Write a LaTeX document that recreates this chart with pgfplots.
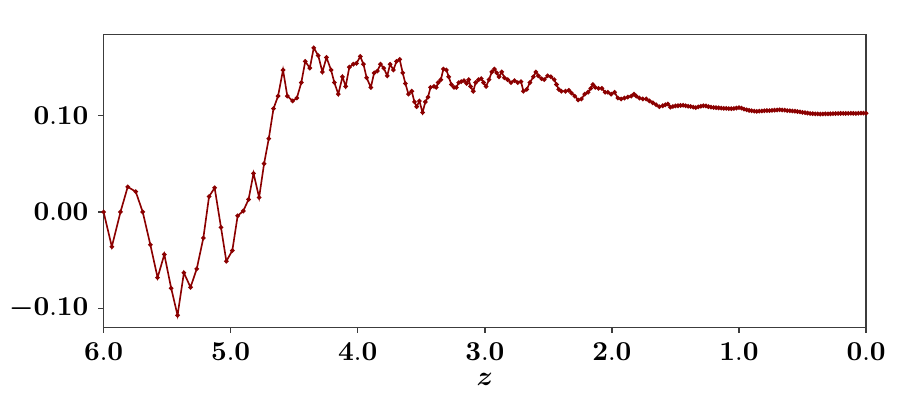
\documentclass[border=0pt]{standalone}
\usepackage{amsmath}
\usepackage{pgfplots}
\pgfplotsset{compat=1.18}
\definecolor{linecol}{RGB}{139,0,0}
\definecolor{axiscol}{RGB}{60,60,60}
\pgfplotstableread{
z y
6.000 0.000
5.935 -0.036
5.867 0.000
5.810 0.026
5.747 0.021
5.692 0.000
5.632 -0.034
5.575 -0.068
5.522 -0.044
5.468 -0.079
5.418 -0.107
5.368 -0.063
5.316 -0.078
5.267 -0.059
5.215 -0.027
5.170 0.016
5.126 0.025
5.076 -0.016
5.034 -0.051
4.987 -0.040
4.945 -0.004
4.901 0.001
4.859 0.013
4.820 0.040
4.776 0.015
4.737 0.050
4.700 0.076
4.663 0.107
4.627 0.120
4.588 0.147
4.554 0.120
4.512 0.115
4.479 0.118
4.444 0.134
4.413 0.156
4.377 0.149
4.346 0.170
4.311 0.162
4.278 0.145
4.246 0.160
4.210 0.147
4.184 0.134
4.153 0.122
4.120 0.140
4.095 0.130
4.066 0.150
4.035 0.153
4.010 0.154
3.980 0.161
3.955 0.153
3.930 0.139
3.897 0.129
3.871 0.144
3.845 0.146
3.821 0.153
3.795 0.149
3.768 0.141
3.745 0.153
3.719 0.147
3.695 0.156
3.670 0.158
3.646 0.144
3.625 0.133
3.601 0.122
3.575 0.125
3.554 0.114
3.536 0.109
3.515 0.115
3.490 0.103
3.468 0.114
3.447 0.119
3.427 0.129
3.400 0.130
3.382 0.129
3.367 0.134
3.346 0.137
3.326 0.148
3.302 0.147
3.284 0.140
3.263 0.132
3.242 0.129
3.224 0.129
3.205 0.134
3.185 0.135
3.164 0.136
3.143 0.133
3.127 0.137
3.112 0.130
3.091 0.125
3.072 0.134
3.049 0.137
3.028 0.138
3.010 0.134
2.990 0.130
2.967 0.137
2.945 0.145
2.924 0.148
2.906 0.144
2.888 0.140
2.867 0.145
2.846 0.139
2.820 0.137
2.794 0.134
2.767 0.136
2.741 0.134
2.715 0.135
2.696 0.125
2.670 0.127
2.645 0.134
2.618 0.140
2.598 0.145
2.579 0.141
2.553 0.138
2.532 0.137
2.506 0.141
2.480 0.140
2.454 0.137
2.436 0.132
2.418 0.127
2.397 0.125
2.365 0.125
2.339 0.126
2.318 0.123
2.292 0.120
2.266 0.116
2.240 0.117
2.214 0.122
2.188 0.124
2.167 0.128
2.149 0.132
2.131 0.129
2.105 0.128
2.079 0.128
2.053 0.124
2.032 0.124
2.006 0.122
1.979 0.124
1.953 0.118
1.927 0.117
1.901 0.118
1.875 0.119
1.848 0.120
1.827 0.122
1.809 0.120
1.783 0.118
1.757 0.117
1.730 0.117
1.705 0.115
1.678 0.113
1.652 0.111
1.626 0.109
1.600 0.1100
1.580 0.1110
1.560 0.1118
1.540 0.1085
1.520 0.1092
1.500 0.1098
1.480 0.1100
1.460 0.1103
1.440 0.1105
1.420 0.1100
1.400 0.1095
1.380 0.1092
1.360 0.1085
1.340 0.1080
1.320 0.1088
1.300 0.1095
1.280 0.1100
1.260 0.1098
1.240 0.1090
1.220 0.1085
1.200 0.1082
1.180 0.1080
1.160 0.1078
1.140 0.1075
1.120 0.1072
1.100 0.1072
1.080 0.1070
1.060 0.1070
1.040 0.1072
1.020 0.1076
1.000 0.1080
0.980 0.1075
0.960 0.1065
0.940 0.1058
0.920 0.1052
0.900 0.1048
0.880 0.1044
0.860 0.1042
0.840 0.1044
0.820 0.1046
0.800 0.1048
0.780 0.1050
0.760 0.1050
0.740 0.1052
0.720 0.1054
0.700 0.1056
0.680 0.1058
0.660 0.1056
0.640 0.1054
0.620 0.1050
0.600 0.1048
0.580 0.1046
0.560 0.1044
0.540 0.1040
0.520 0.1036
0.500 0.1032
0.480 0.1028
0.460 0.1024
0.440 0.1020
0.420 0.1018
0.400 0.1016
0.380 0.1015
0.360 0.1014
0.340 0.1015
0.320 0.1016
0.300 0.1016
0.280 0.1017
0.260 0.1018
0.240 0.1019
0.220 0.1020
0.200 0.1021
0.180 0.1021
0.160 0.1020
0.140 0.1021
0.120 0.1022
0.100 0.1021
0.080 0.1020
0.060 0.1022
0.040 0.1024
0.020 0.1023
0.000 0.1022
}\datatable
\begin{document}
\begin{tikzpicture}
\begin{axis}[
  scale only axis,
  width=278.5pt, height=106.9pt,
  x dir=reverse,
  xmin=0, xmax=6,
  ymin=-0.1196, ymax=0.1835,
  xtick={0,1,2,3,4,5,6},
  xticklabels={$\mathbf{0.0}$,$\mathbf{1.0}$,$\mathbf{2.0}$,$\mathbf{3.0}$,$\mathbf{4.0}$,$\mathbf{5.0}$,$\mathbf{6.0}$},
  ytick={-0.1,0,0.1},
  yticklabels={$\boldsymbol{-}\mathbf{0.10}$,$\mathbf{0.00}$,$\mathbf{0.10}$},
  tick pos=left,
  tick align=outside,
  major tick length=2pt,
  axis line style={color=axiscol, line width=0.5pt},
  tick style={color=axiscol, line width=0.5pt},
  xlabel={$\boldsymbol{z}$},
  xlabel style={yshift=2pt},
]
\addplot[color=linecol, line width=0.6pt, mark=*, mark size=0.5pt, mark options={color=linecol}] table[x=z,y=y] {\datatable};
\end{axis}
\path (current axis.south west) ++(-36.4pt,-30.9pt) coordinate (bbA);
\path (current axis.north east) ++(11.3pt,12.7pt) coordinate (bbB);
\path (bbA) rectangle (bbB);
\end{tikzpicture}
\end{document}
